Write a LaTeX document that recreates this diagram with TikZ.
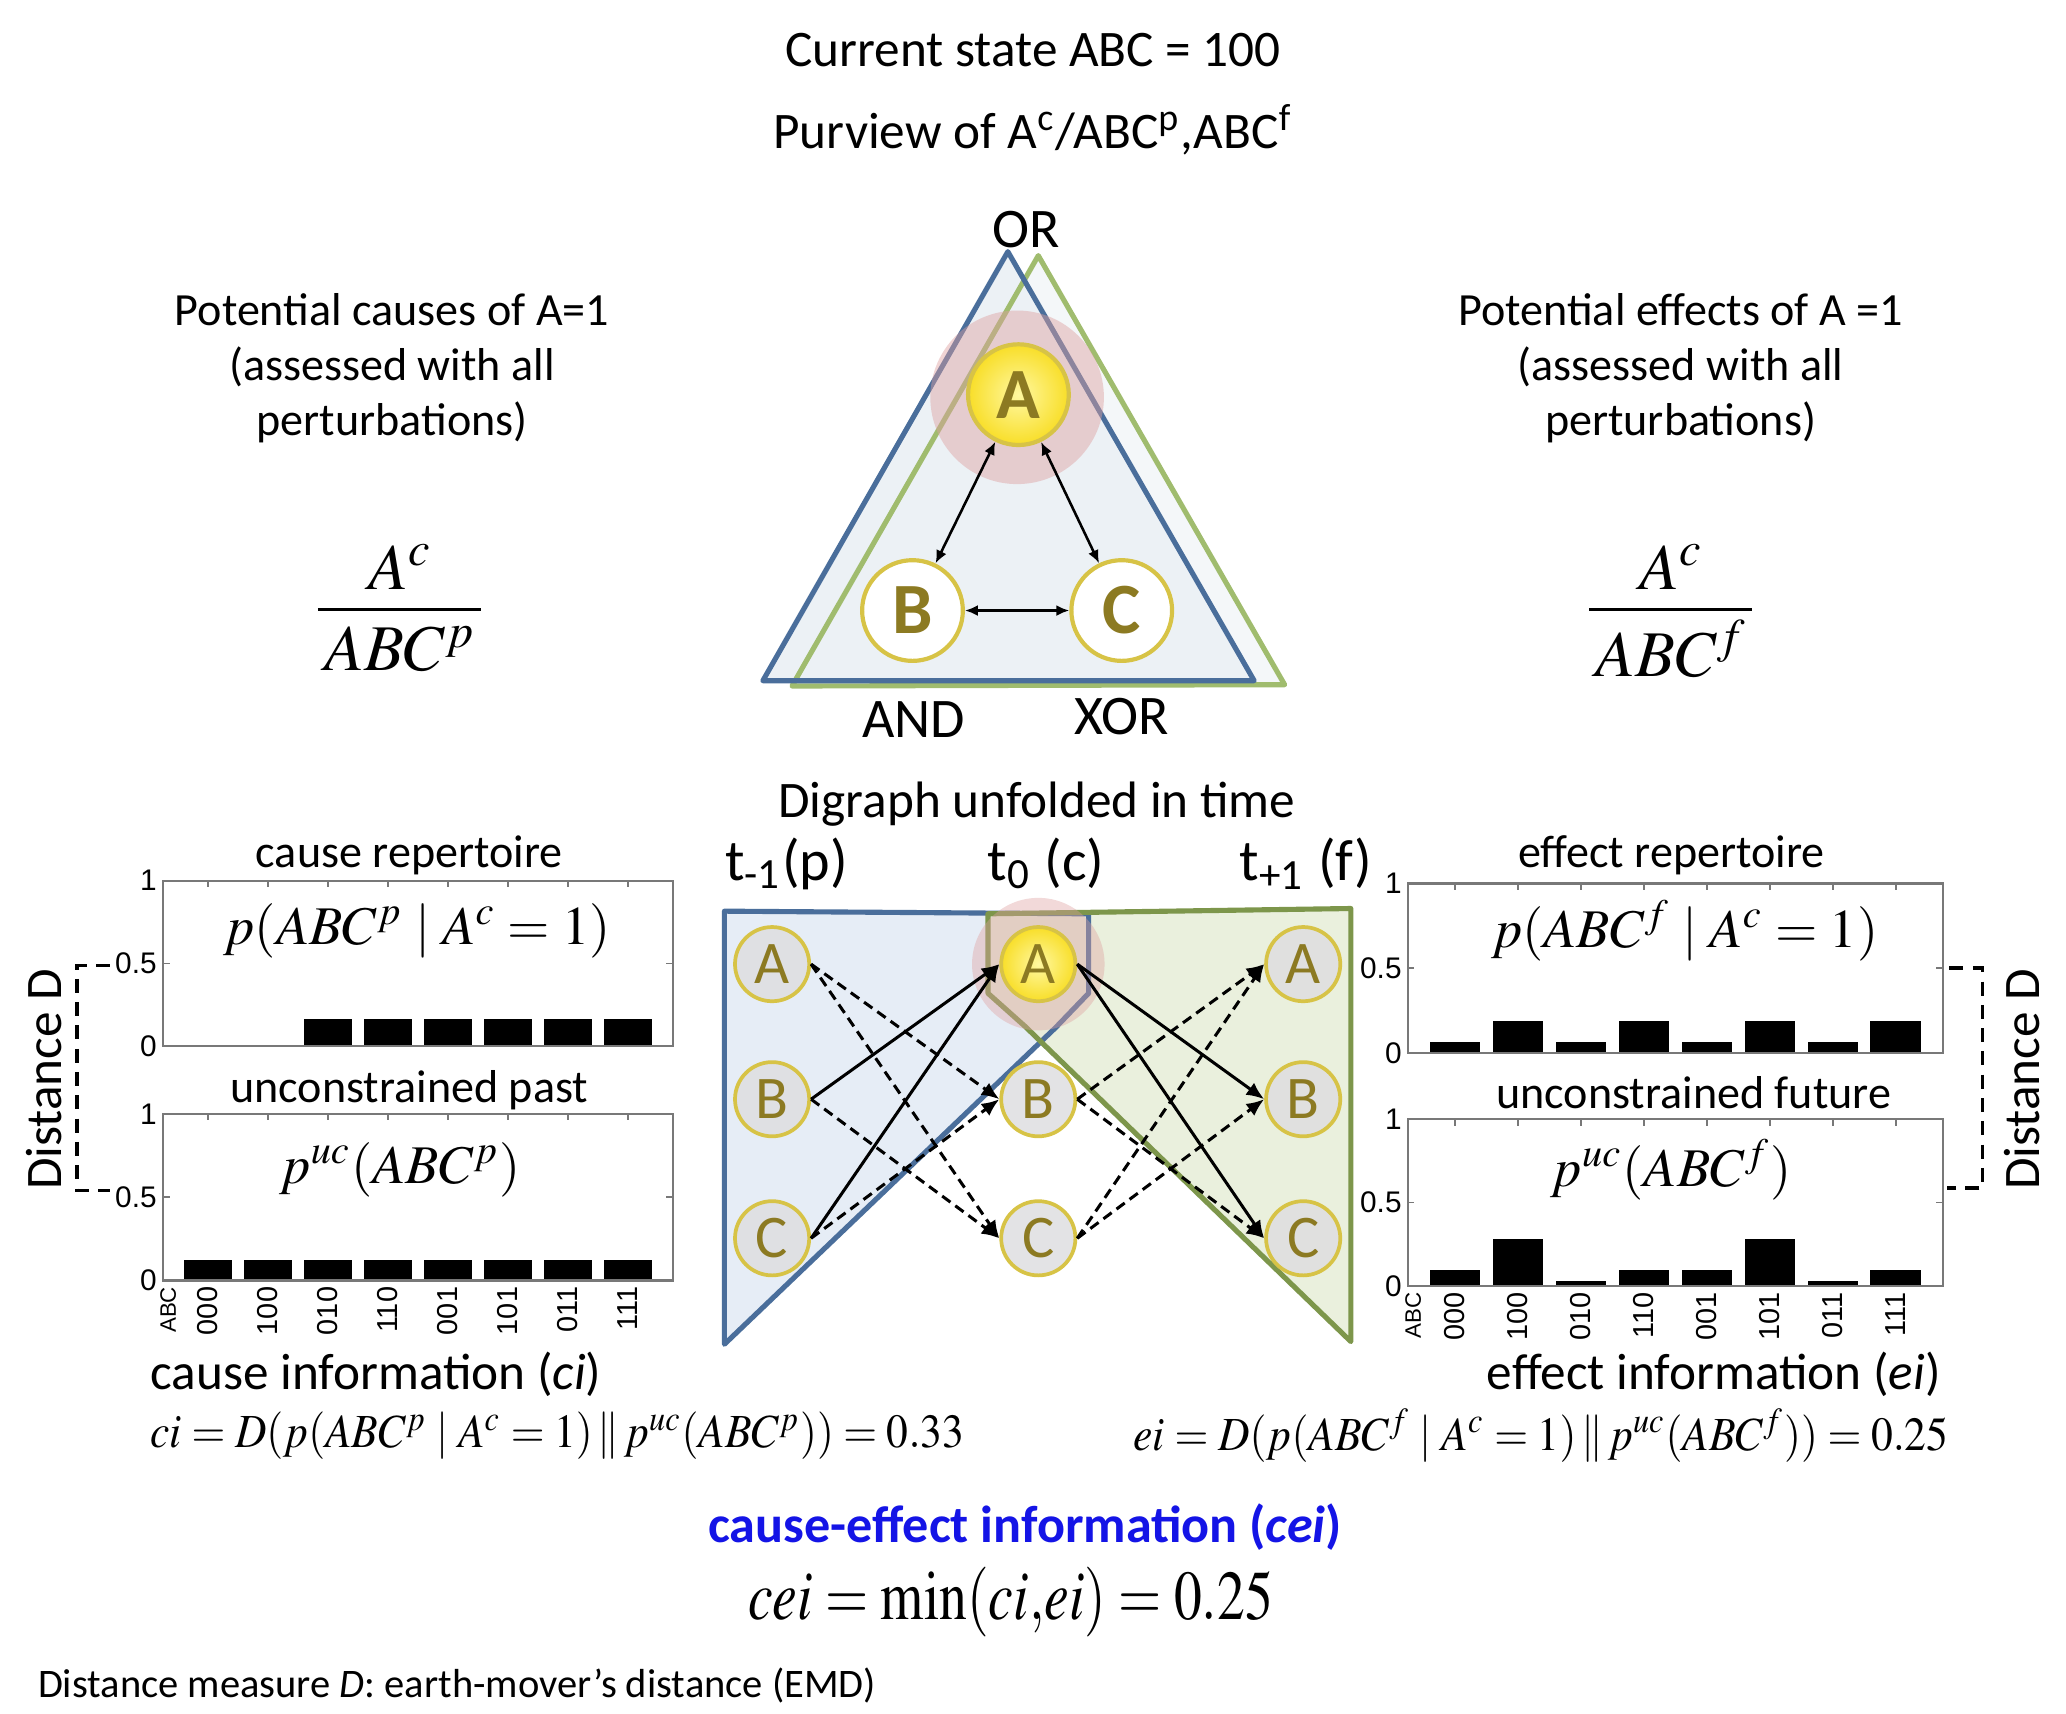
\documentclass[tikz,border=0pt]{standalone}
\usepackage{mathptmx}
\usepackage[no-math]{fontspec}
\setmainfont{Carlito}
\newfontfamily\arialf{Liberation Sans}
\usepackage{graphicx}
\usetikzlibrary{arrows.meta,calc}
\definecolor{bluel}{RGB}{74,110,155}
\definecolor{greenl}{RGB}{125,150,75}
\definecolor{greentri}{RGB}{160,188,110}
\definecolor{bluefill}{RGB}{226,234,244}
\definecolor{greenfill}{RGB}{230,237,215}
\definecolor{trifill}{RGB}{236,241,245}
\definecolor{pinkc}{RGB}{222,160,160}
\definecolor{nodeborder}{RGB}{215,195,70}
\definecolor{letterc}{RGB}{140,122,34}
\definecolor{ygold}{RGB}{248,222,40}
\definecolor{ylight}{RGB}{255,248,160}
\definecolor{nodegray}{RGB}{222,222,224}
\definecolor{ceiblue}{RGB}{20,20,230}
\definecolor{axisgray}{RGB}{120,120,120}
\newcommand\barchart[6]{% #1 x1, #2 x2, #3 ytop, #4 ybot, #5 values, #6 name
  \foreach \v [count=\k] in {#5} {
    \pgfmathsetmacro\cx{#1+(#2-#1)*(\k-0.25)/8.5}
    \pgfmathsetmacro\hw{0.4*(#2-#1)/8.5}
    \pgfmathsetmacro\ty{#4-(#4-#3)*\v}
    \fill (\cx-\hw,#4) rectangle (\cx+\hw,\ty);
    \draw[axisgray, line width=0.4pt] (\cx,#3) -- (\cx,#3+5);
  }
  \draw[axisgray, line width=0.5pt] (#1,#3) rectangle (#2,#4);
  \draw[axisgray, line width=0.4pt] (#1,{(#3+#4)/2}) -- (#1+5,{(#3+#4)/2});
  \draw[axisgray, line width=0.4pt] (#2,{(#3+#4)/2}) -- (#2-5,{(#3+#4)/2});
  \node[ticklab, anchor=east] (#6t1) at (#1-4,#3) {1};
  \node[ticklab, anchor=east] (#6t5) at (#1-4,{(#3+#4)/2}) {0.5};
  \node[ticklab, anchor=east] (#6t0) at (#1-4,#4) {0};
}
\newcommand\xlabels[4]{% #1 x1, #2 x2, #3 ybot, #4 name
  \foreach \s [count=\k] in {000,100,010,110,001,101,011,111} {
    \pgfmathsetmacro\cx{#1+(#2-#1)*(\k-0.25)/8.5}
    \node[xlab, rotate=90, anchor=east] (#4x\k) at (\cx,#3+4) {\s};
  }
  \node[xlab, font=\arialf\fontsize{4.8}{5}\selectfont, rotate=90, anchor=east] (#4abc) at (#1+4,#3+4) {ABC};
}
\begin{document}
\begin{tikzpicture}[x=0.01cm,y=-0.01cm,
  ttl/.style={font=\fontsize{11}{13.2}\selectfont, inner sep=0pt},
  sub/.style={font=\fontsize{9.9}{11.8}\selectfont, inner sep=0pt},
  lbl/.style={font=\fontsize{9.9}{11.8}\selectfont, inner sep=0pt, align=center},
  ticklab/.style={font=\arialf\fontsize{6.4}{7}\selectfont, inner sep=0pt},
  xlab/.style={font=\arialf\fontsize{6.2}{7}\selectfont, inner sep=0pt},
  tnode/.style={circle, draw=nodeborder, line width=0.9pt, minimum size=0.76cm, inner sep=0pt, text=letterc, font=\fontsize{15.5}{15.5}\bfseries\selectfont},
  dnode/.style={circle, draw=nodeborder, line width=0.8pt, fill=nodegray, fill opacity=0.85, text opacity=1, minimum size=0.56cm, inner sep=0pt, text=letterc, font=\fontsize{13}{13}\selectfont},
  tarrow/.style={{Latex[length=2.8pt,width=2.4pt]}-{Latex[length=2.8pt,width=2.4pt]}, line width=0.55pt},
  solidarr/.style={-{Latex[length=3.8pt,width=3.2pt]}, line width=0.65pt},
  dasharr/.style={-{Latex[length=3.8pt,width=3.2pt]}, line width=0.65pt, dash pattern=on 2.2pt off 1.3pt},
  fml/.style={font=\fontsize{11.7}{14}\selectfont, inner sep=0pt},
  bracket/.style={line width=0.8pt, dash pattern=on 3pt off 2pt}
]
\useasboundingbox (0,0) rectangle (1560,1294);

% ---------- titles ----------
\node[ttl] (title1) at (780,38) {Current state ABC = 100};
\node[ttl] (title2) at (780,98) {Purview of A\textsuperscript{c}/ABC\textsuperscript{p},ABC\textsuperscript{f}};

% ---------- triangle ----------
\fill[trifill, opacity=0.6] (784,193) -- (598,518) -- (970,517) -- cycle;
\fill[trifill] (761,190) -- (576,514) -- (947,514) -- cycle;
\draw[greentri, line width=1.1pt, line join=round] (784,193) -- (598,518) -- (970,517) -- cycle;
\draw[bluel, line width=1.1pt, line join=round] (761,190) -- (576,514) -- (947,514) -- cycle;
\fill[pinkc, opacity=0.45] (768,300) circle[radius=0.655cm];
\node[tnode, shade, inner color=ylight, outer color=ygold] (tA) at (769,298) {A};
\node[tnode, fill=white] (tB) at (689,461) {B};
\node[tnode, fill=white] (tC) at (847,461) {C};
\draw[tarrow] (tA) -- (tB);
\draw[tarrow] (tA) -- (tC);
\draw[tarrow] (tB) -- (tC);
\node[ttl, font=\fontsize{12}{14}\selectfont] (orl) at (775,173) {OR};
\node[ttl, font=\fontsize{12}{14}\selectfont] (andl) at (690,543) {AND};
\node[ttl, font=\fontsize{12}{14}\selectfont] (xorl) at (847,541) {XOR};

% ---------- side texts ----------
\node[lbl] (causes) at (296,278) {Potential causes of A=1\\(assessed with all\\perturbations)};
\node[lbl] (effects) at (1269,278) {Potential effects of A =1\\(assessed with all\\perturbations)};
\node[fml, font=\fontsize{14}{16}\selectfont] (fnl) at (302,428) {$A^{c}$};
\node[fml, font=\fontsize{14}{16}\selectfont] (fdl) at (302,490) {$ABC^{p}$};
\draw[line width=0.6pt] (240,460) -- (363,460);
\node[fml, font=\fontsize{14}{16}\selectfont] (fnr) at (1262,428) {$A^{c}$};
\node[fml, font=\fontsize{14}{16}\selectfont] (fdr) at (1262,490) {$ABC^{f}$};
\draw[line width=0.6pt] (1200,460) -- (1323,460);

% ---------- digraph ----------
\node[ttl] (digraph) at (783,607) {Digraph unfolded in time};
\node[ttl, font=\fontsize{12.5}{14}\selectfont] (tp) at (594,652) {t\textsubscript{-1}(p)};
\node[ttl, font=\fontsize{12.5}{14}\selectfont] (tc) at (790,652) {t\textsubscript{0} (c)};
\node[ttl, font=\fontsize{12.5}{14}\selectfont] (tf) at (986,652) {t\textsubscript{+1} (f)};

\fill[bluefill, opacity=0.85] (547,688) -- (822,690) -- (822,750) -- (797,776) -- (547,1015) -- cycle;
\fill[greenfill, opacity=0.85] (746,690) -- (1020,686) -- (1020,1013) -- (774,775) -- (746,750) -- cycle;
\draw[bluel, line width=1.1pt, line join=round] (547,688) -- (822,690) -- (822,750) -- (797,776) -- (547,1015) -- cycle;
\draw[greenl, line width=1.1pt, line join=round] (746,690) -- (1020,686) -- (1020,1013) -- (774,775) -- (746,750) -- cycle;
\fill[pinkc, opacity=0.4] (784,728) circle[radius=0.5cm];

\node[dnode] (pA) at (583,728) {A};
\node[dnode] (pB) at (583,830) {B};
\node[dnode] (pC) at (583,935) {C};
\node[dnode, shade, inner color=ylight, outer color=ygold, fill opacity=1] (cA) at (784,728) {A};
\node[dnode] (cB) at (784,830) {B};
\node[dnode] (cC) at (784,935) {C};
\node[dnode] (fA) at (984,728) {A};
\node[dnode] (fB) at (984,830) {B};
\node[dnode] (fC) at (984,935) {C};

\draw[solidarr] (pB.east) -- (cA.west);
\draw[solidarr] (pC.east) -- (cA.west);
\draw[solidarr] (cA.east) -- (fB.west);
\draw[solidarr] (cA.east) -- (fC.west);
\draw[dasharr] (pA.east) -- (cB.west);
\draw[dasharr] (pA.east) -- (cC.west);
\draw[dasharr] (pB.east) -- (cC.west);
\draw[dasharr] (pC.east) -- (cB.west);
\draw[dasharr] (cB.east) -- (fA.west);
\draw[dasharr] (cC.east) -- (fA.west);
\draw[dasharr] (cC.east) -- (fB.west);
\draw[dasharr] (cB.east) -- (fC.west);

% ---------- charts ----------
\node[sub] (crep) at (309,646) {cause repertoire};
\node[sub] (upast) at (309,823) {unconstrained past};
\node[sub] (erep) at (1262,646) {effect repertoire};
\node[sub] (ufut) at (1279,825) {unconstrained future};

\barchart{123}{508}{665}{790}{0,0,0.1667,0.1667,0.1667,0.1667,0.1667,0.1667}{lt}
\barchart{123}{508}{841}{967}{0.125,0.125,0.125,0.125,0.125,0.125,0.125,0.125}{lb}
\barchart{1063}{1467}{667}{795}{0.0625,0.1875,0.0625,0.1875,0.0625,0.1875,0.0625,0.1875}{rt}
\barchart{1063}{1467}{845}{971}{0.09375,0.28125,0.03125,0.09375,0.09375,0.28125,0.03125,0.09375}{rb}
\xlabels{123}{508}{967}{lb}
\xlabels{1063}{1467}{971}{rb}

\node[fml] (crf) at (315,703) {$p(ABC^{p}\;|\;A^{c}=1)$};
\node[fml] (upf) at (302,883) {$p^{uc}(ABC^{p})$};
\node[fml] (erf) at (1272,703) {$p(ABC^{f}\;|\;A^{c}=1)$};
\node[fml] (ufu) at (1262,883) {$p^{uc}(ABC^{f})$};

\draw[bracket] (83,729) -- (58,729) -- (58,899) -- (83,899);
\draw[bracket] (1472,731) -- (1497,731) -- (1497,897) -- (1470,897);
\node[ttl, rotate=90] (distl) at (33,815) {Distance D};
\node[ttl, rotate=90] (distr) at (1527,815) {Distance D};

% ---------- bottom ----------
\node[ttl, anchor=west] (ci) at (113,1038) {cause information (\textit{ci})};
\node[ttl, anchor=east] (ei) at (1466,1038) {effect information (\textit{ei})};
\node[fml, anchor=west, font=\fontsize{10.2}{12}\selectfont] (cif) at (113,1084) {\resizebox{6.14cm}{\height}{$ci=D(p(ABC^{p}\;|\;A^{c}=1)\,\|\,p^{uc}(ABC^{p}))=0.33$}};
\node[fml, anchor=east, font=\fontsize{10.2}{12}\selectfont] (eif) at (1472,1084) {\resizebox{6.15cm}{\height}{$ei=D(p(ABC^{f}\;|\;A^{c}=1)\,\|\,p^{uc}(ABC^{f}))=0.25$}};
\node[ttl, text=ceiblue, font=\fontsize{11.2}{14}\bfseries\selectfont] (cei) at (774,1153) {cause-effect information (\textit{cei})};
\node[fml, font=\fontsize{15}{17}\selectfont] (ceif) at (763,1210) {\resizebox{3.96cm}{\height}{$cei=\min(ci{,}ei)=0.25$}};
\node[ttl, anchor=west, font=\fontsize{8.7}{10}\selectfont] (dm) at (28,1273) {Distance measure \textit{D}: earth-mover’s distance (EMD)};
\end{tikzpicture}
\end{document}
